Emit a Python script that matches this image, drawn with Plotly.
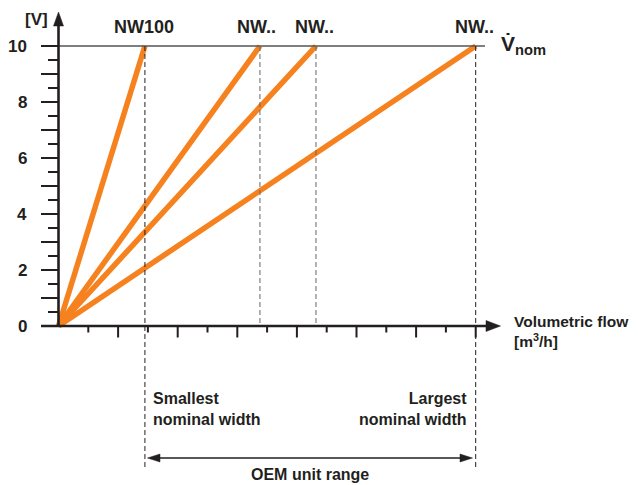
import plotly.graph_objects as go

# ---- data ----
nw_labels = ["NW100", "NW..", "NW..", "NW.."]
nw_flow = [2.9, 6.76, 8.64, 14.0]        # flow at V_nom (tick units)
v_nom = 10
y_major = [0, 1, 2, 3, 4, 5, 6, 7, 8, 9, 10]
y_minor = [0.5, 1.5, 2.5, 3.5, 4.5, 5.5, 6.5, 7.5, 8.5, 9.5]
y_labels = [0, 2, 4, 6, 8, 10]
x_major = [2, 4, 6, 8, 10, 12, 14]
x_minor = [1, 3, 5, 7, 9, 11, 13]

# ---- geometry helpers (window pixel -> data) ----
W, H = 638, 485
OFF = 8                 # page body margin
X0, XU = 58.5, 29.8     # px of x=0, px per x-unit
Y0, YU = 326.0, 28.0    # px of y=0, px per volt


def X(px):
    return (px - X0) / XU


def Y(py):
    return (Y0 - py) / YU


ORANGE = "#F5821F"
INK = "#231F20"
FONT = "Liberation Sans, Arial, sans-serif"

fig = go.Figure()

shapes = []
# horizontal V_nom line
shapes.append(dict(type="line", x0=0, x1=X(485), y0=v_nom, y1=v_nom,
                   line=dict(color="#555555", width=1.3)))
# dashed verticals
for i, f in enumerate(nw_flow):
    outer = i == 0 or i == len(nw_flow) - 1
    shapes.append(dict(type="line", x0=f, x1=f, y0=v_nom,
                       y1=Y(470) if outer else 0,
                       line=dict(color=INK if outer else "#666666", width=1,
                                 dash="5px,3px")))
# y ticks
for v in y_major:
    shapes.append(dict(type="line", x0=X(41), x1=0, y0=v, y1=v,
                       line=dict(color=INK, width=2)))
for v in y_minor:
    shapes.append(dict(type="line", x0=X(48), x1=0, y0=v, y1=v,
                       line=dict(color=INK, width=2)))
# x ticks
for k in x_major:
    shapes.append(dict(type="line", x0=k, x1=k, y0=0, y1=Y(337.5),
                       line=dict(color=INK, width=2)))
for k in x_minor:
    shapes.append(dict(type="line", x0=k, x1=k, y0=0, y1=Y(332.5),
                       line=dict(color=INK, width=2)))
# axes lines
shapes.append(dict(type="line", x0=0, x1=0, y0=Y(327), y1=Y(24),
                   line=dict(color=INK, width=2.6)))
shapes.append(dict(type="line", x0=X(41), x1=X(488), y0=0, y1=0,
                   line=dict(color=INK, width=2.6)))
# arrow heads
shapes.append(dict(type="path",
                   path=f"M {X(53.5)} {Y(26)} L {X(58.5)} {Y(12)} L {X(63.5)} {Y(26)} Z",
                   fillcolor=INK, line=dict(color=INK, width=0.5)))
shapes.append(dict(type="path",
                   path=f"M {X(486)} {Y(320.5)} L {X(500.5)} {Y(326)} L {X(486)} {Y(331.5)} Z",
                   fillcolor=INK, line=dict(color=INK, width=0.5)))
# OEM range double arrow
ya = Y(458)
shapes.append(dict(type="line", x0=X(156), x1=X(464), y0=ya, y1=ya,
                   line=dict(color=INK, width=1.6)))
shapes.append(dict(type="path",
                   path=f"M {X(147.5)} {ya} L {X(160)} {Y(454)} L {X(160)} {Y(462)} Z",
                   fillcolor=INK, line=dict(color=INK, width=0.5)))
shapes.append(dict(type="path",
                   path=f"M {X(472.5)} {ya} L {X(460)} {Y(454)} L {X(460)} {Y(462)} Z",
                   fillcolor=INK, line=dict(color=INK, width=0.5)))

# orange lines
for f in nw_flow:
    fig.add_trace(go.Scatter(x=[0, f], y=[0, v_nom], mode="lines",
                             line=dict(color=ORANGE, width=5.5),
                             hoverinfo="skip", showlegend=False))

ann = []


def text(x, y, s, size, xanchor="center", yanchor="middle", align="center", xshift=0):
    ann.append(dict(x=x, y=y, text=s, showarrow=False, xanchor=xanchor,
                    yanchor=yanchor, align=align, xshift=xshift,
                    font=dict(family=FONT, size=size, color=INK)))


for v in y_labels:
    text(X(29), v, f"<b>{v}</b>", 17, xanchor="right")
text(X(36), Y(19), "<b>[V]</b>", 17)
shifts = [-1, -3, -1, -1]
for lab, f, s in zip(nw_labels, nw_flow, shifts):
    text(f, Y(27), f"<b>{lab}</b>", 18, xshift=s)
text(X(499), Y(45), "<b>V̇<sub>nom</sub></b>", 21, xanchor="left")
text(X(512), Y(331), "<b>Volumetric flow<br>[m<sup>3</sup>/h]</b>", 15.5,
     xanchor="left", align="left")
text(X(151), Y(409), "<b>Smallest<br>nominal width</b>", 16,
     xanchor="left", align="left")
text(X(469), Y(409), "<b>Largest<br>nominal width</b>", 16,
     xanchor="right", align="right")
text(X(310), Y(474), "<b>OEM unit range</b>", 16)

fig.update_layout(
    width=W - OFF, height=H - OFF, margin=dict(l=0, r=0, t=0, b=0),
    paper_bgcolor="white", plot_bgcolor="white",
    xaxis=dict(range=[X(OFF), X(W)], visible=False, fixedrange=True),
    yaxis=dict(range=[Y(H), Y(OFF)], visible=False, fixedrange=True),
    shapes=shapes, annotations=ann, showlegend=False,
)
fig.write_html("out.html")
